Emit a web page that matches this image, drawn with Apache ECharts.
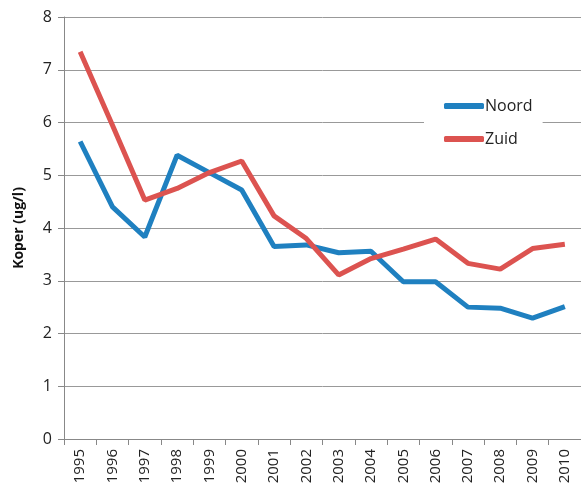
<!DOCTYPE html>
<html>
<head>
<meta charset="utf-8">
<script src="https://cdn.jsdelivr.net/npm/echarts@6/dist/echarts.min.js"></script>
<style>
  html, body { margin: 0; padding: 0; background: #fff; }
  #chart { width: 581px; height: 498px; }
</style>
</head>
<body>
<div id="chart"></div>
<script>
const years = ['1995', '1996', '1997', '1998', '1999', '2000', '2001', '2002',
  '2003', '2004', '2005', '2006', '2007', '2008', '2009', '2010'];
const noord = [5.64, 4.40, 3.83, 5.38, 5.05, 4.72, 3.65, 3.68, 3.53, 3.56, 2.98, 2.98, 2.50, 2.48, 2.29, 2.51];
const zuid = [7.34, 5.95, 4.53, 4.75, 5.05, 5.27, 4.23, 3.80, 3.11, 3.42, 3.60, 3.79, 3.33, 3.22, 3.61, 3.69];

const chart = echarts.init(document.getElementById('chart'));
const font = '"Open Sans", "Noto Sans", sans-serif';
chart.setOption({
  animation: false,
  textStyle: { fontFamily: font },
  grid: { left: 64, top: 17, right: -5, bottom: 59 },
  legend: {
    orient: 'vertical',
    left: 424,
    top: 94,
    itemWidth: 40,
    itemHeight: 6,
    itemGap: 17,
    padding: [4, 10, 4, 20],
    backgroundColor: '#fff',
    textStyle: { fontSize: 16, color: '#222', fontFamily: font, padding: [0, 0, 0, -4] },
    icon: 'roundRect',
    data: ['Noord', 'Zuid']
  },
  xAxis: {
    type: 'category',
    data: years,
    boundaryGap: true,
    axisLine: { lineStyle: { color: '#888', width: 1 } },
    axisTick: { show: true, length: 6, lineStyle: { color: '#888' } },
    axisLabel: { rotate: 90, fontSize: 15, color: '#222', margin: 10, interval: 0 }
  },
  yAxis: {
    type: 'value',
    min: 0,
    max: 8,
    interval: 1,
    name: 'Koper (ug/l)',
    nameLocation: 'middle',
    nameGap: 38,
    nameTextStyle: { fontSize: 14, fontWeight: 'bold', color: '#111' },
    axisLine: { show: true, lineStyle: { color: '#888', width: 1 } },
    axisTick: { show: true, length: 6, lineStyle: { color: '#888' } },
    axisLabel: { fontSize: 16, color: '#222', margin: 12 },
    splitLine: { lineStyle: { color: '#999', width: 1 } }
  },
  series: [
    {
      name: 'Noord',
      type: 'line',
      data: noord,
      symbol: 'none',
      color: '#1f80c0',
      lineStyle: { width: 5, color: '#1f80c0' }
    },
    {
      name: 'Zuid',
      type: 'line',
      data: zuid,
      symbol: 'none',
      color: '#dc5350',
      lineStyle: { width: 5, color: '#dc5350' }
    }
  ]
});
</script>
</body>
</html>
